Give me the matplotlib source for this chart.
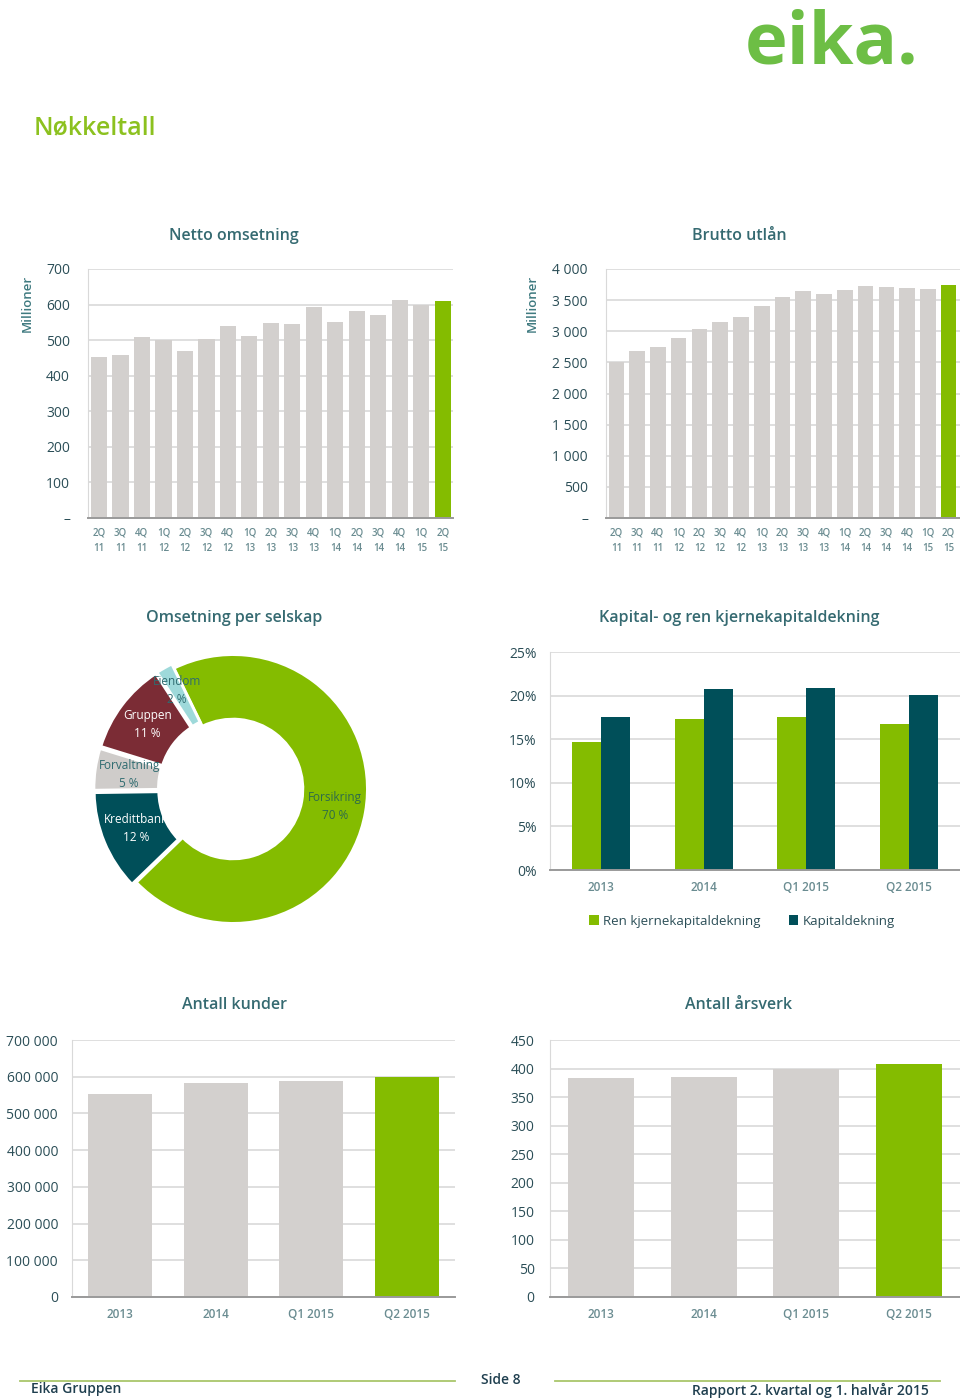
import numpy as np
import matplotlib.pyplot as plt
from matplotlib.lines import Line2D

plt.rcParams['font.family'] = ['Open Sans', 'DejaVu Sans']

# --- data -------------------------------------------------------------
quarters = ["2Q\n11", "3Q\n11", "4Q\n11", "1Q\n12", "2Q\n12", "3Q\n12", "4Q\n12",
            "1Q\n13", "2Q\n13", "3Q\n13", "4Q\n13", "1Q\n14", "2Q\n14", "3Q\n14",
            "4Q\n14", "1Q\n15", "2Q\n15"]
netto = [454, 458, 508, 499, 470, 504, 540, 512, 547, 544, 593, 551, 581, 570,
         613, 600, 609]
brutto = [2503, 2684, 2749, 2898, 3037, 3144, 3225, 3406, 3556, 3642, 3599, 3663,
          3733, 3717, 3690, 3684, 3743]

selskap = ["Forsikring", "Kredittbank", "Forvaltning", "Gruppen", "Eiendom"]
andel = [70, 12, 5, 11, 2]

periods = ["2013", "2014", "Q1 2015", "Q2 2015"]
ren_kjerne = [14.7, 17.3, 17.6, 16.8]
kapitaldekning = [17.6, 20.8, 20.9, 20.1]

kunder = [553000, 583000, 588000, 600000]
arsverk = [384, 385, 400, 408]

# --- colours ----------------------------------------------------------
GREEN = "#84BC00"
GREY = "#D3D0CE"
TEAL = "#004F59"
TITLE = "#356A71"
TICK = "#2B4E57"
XTICK = "#6A8C91"
GRID = "#D9D9D9"

W, H = 960, 1400
fig = plt.figure(figsize=(9.6, 14.0), dpi=100)


def rect(x0, y0, x1, y1):
    return [x0 / W, 1 - y1 / H, (x1 - x0) / W, (y1 - y0) / H]


def ftext(x, y, s, **kw):
    fig.text(x / W, 1 - y / H, s, **kw)


def thousands(v):
    return f"{int(v):,}".replace(",", " ")


def style(ax, ymax, step, labels, ypad, xpad, xsize, xweight):
    ticks = np.arange(0, ymax + step / 2, step)
    ax.set_ylim(0, ymax)
    ax.set_yticks(ticks)
    ax.set_yticklabels(labels(ticks))
    ax.yaxis.grid(True, color=GRID, lw=1.2)
    ax.set_axisbelow(True)
    for s in ["top", "right"]:
        ax.spines[s].set_visible(False)
    ax.spines["left"].set_color(GRID)
    ax.spines["bottom"].set_color("#9A9A9A")
    ax.spines["bottom"].set_linewidth(1.4)
    ax.tick_params(axis="y", length=0, pad=ypad, labelsize=10, labelcolor=TICK)
    ax.tick_params(axis="x", length=0, pad=xpad, labelsize=xsize, labelcolor=XTICK)
    for t in ax.get_xticklabels():
        t.set_fontweight(xweight)


def bar_colors(n):
    return [GREY] * (n - 1) + [GREEN]


# --- header -----------------------------------------------------------
ftext(918, 44, "eika.", ha="right", va="center", fontsize=52, fontweight="bold",
      color="#6DBE45")
ftext(34, 128, "Nøkkeltall", ha="left", va="center", fontsize=18,
      fontweight="semibold", color="#8CC11F")

title_kw = dict(ha="center", va="center", fontsize=11.5, fontweight="semibold",
                color=TITLE)

# --- Netto omsetning --------------------------------------------------
ax1 = fig.add_axes(rect(88, 269, 453, 518))
x = np.arange(len(quarters))
ax1.bar(x, netto, width=0.75, color=bar_colors(len(netto)))
ax1.set_xlim(-0.51, len(quarters) - 0.53)
ax1.set_xticks(x)
ax1.set_xticklabels(quarters, linespacing=1.5)
style(ax1, 700, 100, lambda t: ["–" if v == 0 else thousands(v) for v in t],
      13, 7, 7, "semibold")
ftext(234, 236, "Netto omsetning", **title_kw)
ftext(27, 303, "Millioner", rotation=90, ha="center", va="center", fontsize=9.5,
      fontweight="semibold", color="#3F7A80")

# --- Brutto utlån -----------------------------------------------------
ax2 = fig.add_axes(rect(606, 269, 960, 518))
ax2.bar(x, brutto, width=0.75, color=bar_colors(len(brutto)))
ax2.set_xlim(-0.5, len(quarters) - 0.45)
ax2.set_xticks(x)
ax2.set_xticklabels(quarters, linespacing=1.5)
style(ax2, 4000, 500, lambda t: ["–" if v == 0 else thousands(v) for v in t],
      13, 7, 7, "semibold")
ftext(739, 236, "Brutto utlån", **title_kw)
ftext(532, 303, "Millioner", rotation=90, ha="center", va="center", fontsize=9.5,
      fontweight="semibold", color="#3F7A80")

# --- Omsetning per selskap (donut) -----------------------------------
ax3 = fig.add_axes(rect(233 - 168, 789 - 168, 233 + 168, 789 + 168))
pie_colors = [GREEN, TEAL, "#CFCCCA", "#7B2C35", "#9ED9DA"]
explode = [0, 0.035, 0.035, 0.035, 0.035]
wedges, _ = ax3.pie(andel, colors=pie_colors, startangle=116, counterclock=False,
                    explode=explode, wedgeprops=dict(width=0.48, edgecolor="white",
                                                     linewidth=2))
ax3.set_xlim(-1.25, 1.25)
ax3.set_ylim(-1.25, 1.25)
label_colors = ["#2E6B4A", "white", "#2F6B70", "white", "#2F6B70"]
label_r = [0.77, 0.78, 0.78, 0.80, 0.84]
for w, name, pct, col, r in zip(wedges, selskap, andel, label_colors, label_r):
    ang = np.deg2rad((w.theta1 + w.theta2) / 2)
    ax3.text(r * np.cos(ang), r * np.sin(ang), f"{name}\n{pct} %", ha="center",
             va="center", fontsize=8.5, color=col, linespacing=1.5)
ftext(234, 618, "Omsetning per selskap", **title_kw)

# --- Kapitaldekning ---------------------------------------------------
ax4 = fig.add_axes(rect(550, 652, 960, 870))
xp = np.arange(len(periods))
bw = 0.285
ax4.bar(xp - bw / 2, ren_kjerne, width=bw, color=GREEN,
        label="Ren kjernekapitaldekning")
ax4.bar(xp + bw / 2, kapitaldekning, width=bw, color=TEAL, label="Kapitaldekning")
ax4.set_xlim(-0.5, 3.5)
ax4.set_xticks(xp)
ax4.set_xticklabels(periods)
style(ax4, 25, 5, lambda t: [f"{int(v)}%" for v in t], 9.5, 8, 8.5, "semibold")
ftext(739, 618, "Kapital- og ren kjernekapitaldekning", **title_kw)
fig.legend(*ax4.get_legend_handles_labels(), loc="center",
           bbox_to_anchor=(742 / W, 1 - 921 / H), ncol=2, frameon=False,
           handlelength=0.7, handleheight=0.7, handletextpad=0.3,
           columnspacing=2.2, fontsize=9.5, labelcolor=TICK)

# --- Antall kunder ----------------------------------------------------
ax5 = fig.add_axes(rect(72, 1040, 455, 1297))
ax5.bar(xp, kunder, width=0.67, color=bar_colors(len(kunder)))
ax5.set_xlim(-0.5, 3.5)
ax5.set_xticks(xp)
ax5.set_xticklabels(periods)
style(ax5, 700000, 100000, lambda t: [thousands(v) for v in t], 10, 8, 8.5,
      "semibold")
ftext(234, 1005, "Antall kunder", **title_kw)

# --- Antall årsverk ---------------------------------------------------
ax6 = fig.add_axes(rect(550, 1040, 960, 1297))
ax6.bar(xp, arsverk, width=0.645, color=bar_colors(len(arsverk)))
ax6.set_xlim(-0.5, 3.5)
ax6.set_xticks(xp)
ax6.set_xticklabels(periods)
style(ax6, 450, 50, lambda t: [thousands(v) for v in t], 11, 8, 8.5, "semibold")
ftext(739, 1005, "Antall årsverk", **title_kw)

# --- footer -----------------------------------------------------------
for x0, x1 in [(20, 455), (555, 940)]:
    fig.add_artist(Line2D([x0 / W, x1 / W], [1 - 1381 / H] * 2, color="#A9C66B",
                          lw=1.3))
foot_kw = dict(va="center", fontsize=10, fontweight="semibold", color="#1F3F4F")
ftext(501, 1380, "Side 8", ha="center", **foot_kw)
ftext(31, 1389, "Eika Gruppen", ha="left", **foot_kw)
ftext(929, 1390, "Rapport 2. kvartal og 1. halvår 2015", ha="right", **foot_kw)

fig.savefig("out.png", dpi=100, facecolor="white")
